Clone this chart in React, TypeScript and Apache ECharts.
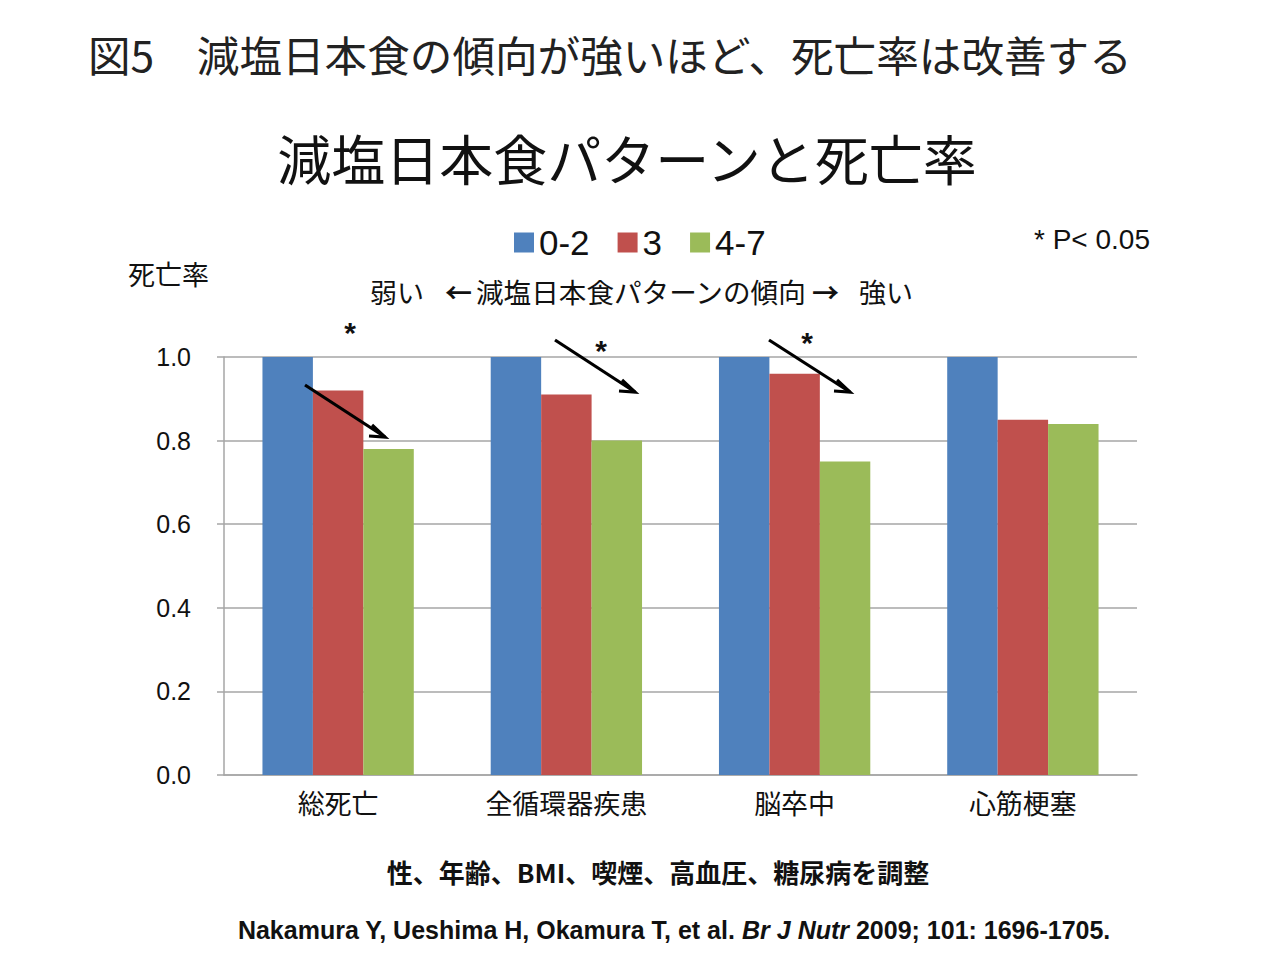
import React, { useEffect, useRef } from "react";
import * as echarts from "echarts";

const categories = ["総死亡", "全循環器疾患", "脳卒中", "心筋梗塞"];
const seriesNames = ["0-2", "3", "4-7"];
const values02 = [1.0, 1.0, 1.0, 1.0];
const values3 = [0.92, 0.91, 0.96, 0.85];
const values47 = [0.78, 0.8, 0.75, 0.84];
const colors = ["#4F81BD", "#C0504D", "#9BBB59"];

const CJK = "'Noto Sans CJK JP', sans-serif";
const NARROW = "'Liberation Sans Narrow', 'Liberation Sans', Arial, sans-serif";

// annotation arrows (pixel positions of the slide drawing)
const arrows = [
  [305, 385, 385, 437],
  [555, 340, 635, 392],
  [769, 340, 850, 392],
];
const stars = [
  [350, 332],
  [601, 350],
  [807, 342],
];

export default function App() {
  const ref = useRef<HTMLDivElement>(null);
  useEffect(() => {
    if (!ref.current) return;
    const chart = echarts.init(ref.current, null, { renderer: "svg" });
    const graphics: any[] = [];
    graphics.push({
      type: "text",
      x: 88,
      y: 53,
      style: {
        text: "図5　減塩日本食の傾向が強いほど、死亡率は改善する",
        fontFamily: CJK,
        fontSize: 42.6,
        fill: "#222",
        align: "left",
        verticalAlign: "middle",
      },
    });
    graphics.push({
      type: "text",
      x: 627,
      y: 157,
      style: {
        text: "減塩日本食パターンと死亡率",
        fontFamily: CJK,
        fontSize: 54,
        fill: "#111",
        align: "center",
        verticalAlign: "middle",
      },
    });
    graphics.push({
      type: "text",
      x: 1150,
      y: 239,
      style: {
        text: "* P< 0.05",
        fontFamily: NARROW,
        fontSize: 28,
        fill: "#111",
        align: "right",
        verticalAlign: "middle",
      },
    });
    graphics.push({
      type: "text",
      x: 128,
      y: 273,
      style: {
        text: "死亡率",
        fontFamily: CJK,
        fontSize: 27,
        fill: "#111",
        align: "left",
        verticalAlign: "middle",
      },
    });
    const sub = [
      [370, "弱い"],
      [445, "←"],
      [476, "減塩日本食パターンの傾向"],
      [812, "→"],
      [859, "強い"],
    ];
    sub.forEach(([x, t]) => {
      graphics.push({
        type: "text",
        x: x as number,
        y: 291,
        style: {
          text: t as string,
          fontFamily: CJK,
          fontSize: t === "減塩日本食パターンの傾向" ? 27.6 : 27,
          fontWeight: t === "←" || t === "→" ? "bold" : "normal",
          fill: "#111",
          align: "left",
          verticalAlign: "middle",
        },
      });
    });
    arrows.forEach(([x1, y1, x2, y2]) => {
      graphics.push({
        type: "line",
        shape: { x1, y1, x2, y2 },
        style: { stroke: "#000", lineWidth: 3.2 },
        z: 100,
      });
      graphics.push({
        type: "polyline",
        shape: { points: [[x2 - 13, y2 - 12], [x2, y2], [x2 - 16, y2 - 1]] },
        style: { stroke: "#000", lineWidth: 3.2, fill: null },
        z: 100,
      });
    });
    stars.forEach(([x, y]) => {
      graphics.push({
        type: "text",
        x,
        y,
        style: {
          text: "*",
          fontFamily: "'Liberation Sans', Arial, sans-serif",
          fontSize: 30,
          fontWeight: "bold",
          fill: "#111",
          align: "center",
          verticalAlign: "middle",
        },
      });
    });
    graphics.push({
      type: "text",
      x: 658,
      y: 871,
      style: {
        text: "性、年齢、BMI、喫煙、高血圧、糖尿病を調整",
        fontFamily: CJK,
        fontSize: 26,
        fontWeight: "bold",
        fill: "#111",
        align: "center",
        verticalAlign: "middle",
      },
    });
    graphics.push({
      type: "text",
      x: 674,
      y: 930,
      style: {
        text: "{b|Nakamura Y, Ueshima H, Okamura T, et al. }{i|Br J Nutr}{b| 2009; 101: 1696-1705.}",
        align: "center",
        verticalAlign: "middle",
        rich: {
          b: { fontFamily: NARROW, fontSize: 25, fontWeight: "bold", fill: "#111" },
          i: { fontFamily: NARROW, fontSize: 25, fontWeight: "bold", fontStyle: "italic", fill: "#111" },
        },
      },
    });

    const mk = (name: string, data: number[], color: string) => ({
      name,
      type: "bar",
      data,
      itemStyle: { color },
      barGap: "0%",
      barCategoryGap: "33.7%",
    });

    chart.setOption({
      animation: false,
      backgroundColor: "#fff",
      grid: { left: 224, right: 143, top: 357, bottom: 185, containLabel: false },
      legend: {
        data: seriesNames,
        left: 509,
        top: 220,
        icon: "rect",
        itemWidth: 20,
        itemHeight: 20,
        itemGap: 28,
        textStyle: { fontFamily: NARROW, fontSize: 35, color: "#111" },
      },
      xAxis: {
        type: "category",
        data: categories,
        axisLine: { show: true, lineStyle: { color: "#a6a6a6", width: 1.5 } },
        axisTick: { show: false },
        axisLabel: {
          fontFamily: CJK,
          fontSize: 27,
          color: "#111",
          margin: 14,
        },
      },
      yAxis: {
        type: "value",
        min: 0,
        max: 1,
        interval: 0.2,
        axisLine: { show: true, lineStyle: { color: "#a6a6a6", width: 1.5 } },
        axisTick: { show: true, length: 7, inside: false, lineStyle: { color: "#a6a6a6", width: 1.5 } },
        splitLine: { show: true, lineStyle: { color: "#a6a6a6", width: 1.5 } },
        axisLabel: {
          fontFamily: NARROW,
          fontSize: 25,
          color: "#111",
          margin: 33,
          formatter: (v: number) => v.toFixed(1),
        },
      },
      series: [
        mk(seriesNames[0], values02, colors[0]),
        mk(seriesNames[1], values3, colors[1]),
        mk(seriesNames[2], values47, colors[2]),
      ],
      graphic: graphics,
    });
    return () => chart.dispose();
  }, []);
  return (
    <div
      ref={ref}
      style={{ position: "fixed", left: 0, top: 0, width: 1280, height: 960, background: "#fff" }}
    />
  );
}
